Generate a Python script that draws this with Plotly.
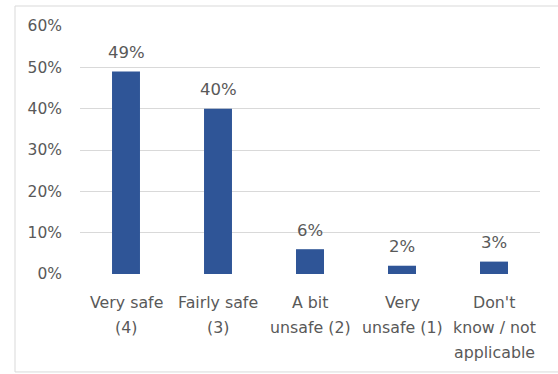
import plotly.graph_objects as go

categories = ["Very safe (4)", "Fairly safe (3)", "A bit unsafe (2)", "Very unsafe (1)", "Don't know / not applicable"]
tick_lines = [["Very safe", "(4)"], ["Fairly safe", "(3)"], ["A bit", "unsafe (2)"], ["Very", "unsafe (1)"], ["Don't", "know / not", "applicable"]]
values = [0.49, 0.40, 0.06, 0.02, 0.03]
y_ticks = [0, 0.1, 0.2, 0.3, 0.4, 0.5, 0.6]

FONT = "DejaVu Sans"
TXT = "#595959"
GRID = "#D9D9D9"

fig = go.Figure(go.Bar(x=categories, y=values, marker_color="#2F5597", marker_line_width=0, hoverinfo="skip"))

annotations = []
for c, v in zip(categories, values):
    annotations.append(dict(x=c, y=v, xref="x", yref="y", text=f"{round(v*100)}%", showarrow=False,
                            yanchor="middle", yshift=19, font=dict(family=FONT, size=16.5, color=TXT)))
for c, lines in zip(categories, tick_lines):
    for i, line in enumerate(lines):
        annotations.append(dict(x=c, y=0, xref="x", yref="paper", text=line, showarrow=False,
                                yanchor="middle", yshift=-(28 + 25 * i), font=dict(family=FONT, size=15.8, color=TXT)))

fig.update_layout(
    width=558, height=374,
    margin=dict(l=80, r=18, t=26, b=100),
    paper_bgcolor="white", plot_bgcolor="white",
    bargap=0.696,
    showlegend=False,
    font=dict(family=FONT, size=15.5, color=TXT),
    annotations=annotations,
    shapes=[dict(type="rect", xref="paper", yref="paper", x0=-0.1413, x1=1.3, y0=-0.395, y1=1.0806,
                 line=dict(color=GRID, width=1), layer="below")],
    xaxis=dict(showticklabels=False, showline=False, ticks="", showgrid=False, zeroline=False),
    yaxis=dict(range=[0, 0.6], tickvals=y_ticks, tickformat=".0%", showgrid=True, gridcolor=GRID, gridwidth=1,
               zeroline=False, showline=False, ticks="", ticklabelstandoff=17,
               tickfont=dict(family=FONT, size=15.5, color=TXT)),
)

fig.write_html("out.html", config={"displayModeBar": False},
               post_script="document.body.style.margin='0';document.body.style.overflow='hidden';")
